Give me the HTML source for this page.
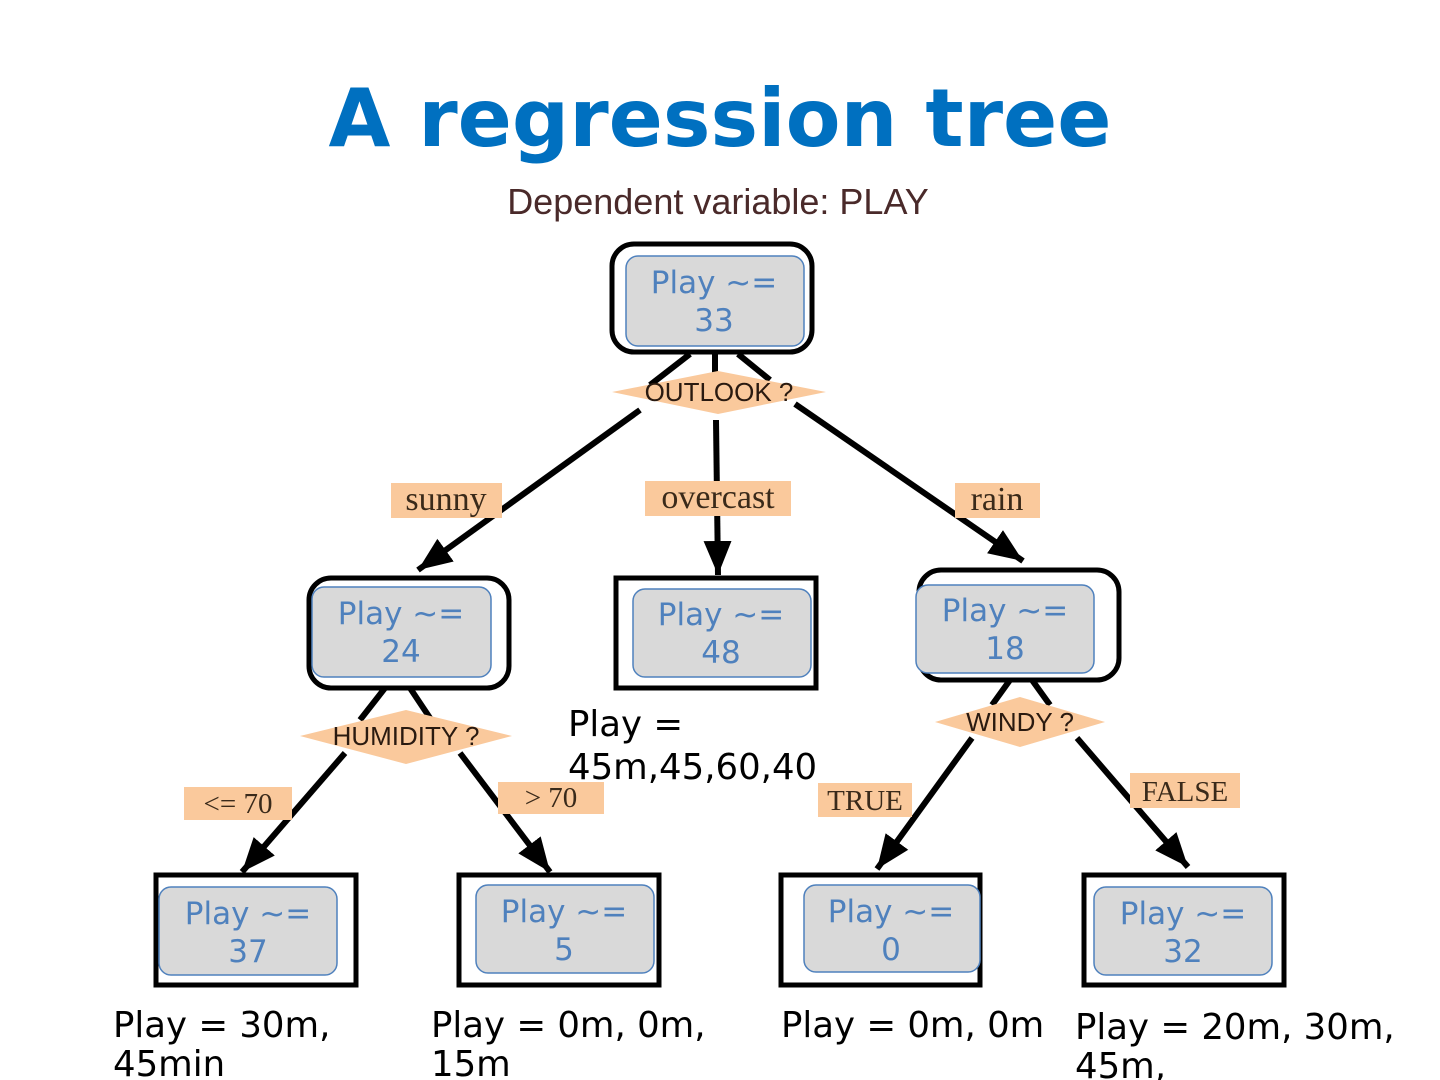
<!DOCTYPE html>
<html><head><meta charset="utf-8"><style>
html,body{margin:0;padding:0;background:#fff;}
svg{display:block;}
.n{font-family:"DejaVu Sans","Liberation Sans",sans-serif;font-size:31px;fill:#4f81bd;text-anchor:middle;}
.lb{font-family:"Liberation Serif",serif;font-size:34px;fill:#3a2a1a;text-anchor:middle;}
.lb2{font-family:"Liberation Serif",serif;font-size:29px;fill:#3a2a1a;text-anchor:middle;}
.dm{font-family:"Liberation Sans",sans-serif;font-size:26px;fill:#2a1a10;text-anchor:middle;}
.bk{font-family:"DejaVu Sans","Liberation Sans",sans-serif;font-size:35.5px;fill:#000;}
</style></head><body>
<svg width="1440" height="1080" viewBox="0 0 1440 1080" xmlns="http://www.w3.org/2000/svg">
<defs>
<marker id="a" markerUnits="userSpaceOnUse" markerWidth="44" markerHeight="44" refX="34" refY="17" orient="auto">
<path d="M0,3 L34,17 L0,31 Z" fill="#000"/>
</marker>
</defs>
<text x="720" y="146" text-anchor="middle" font-family="DejaVu Sans, Liberation Sans, sans-serif" font-weight="bold" font-size="80" fill="#0070c0">A regression tree</text>
<text x="718" y="214" text-anchor="middle" font-family="Liberation Sans, sans-serif" font-size="36" fill="#4a2a2a">Dependent variable: PLAY</text>

<g stroke="#000" stroke-width="6" fill="none">
<line x1="690" y1="354" x2="650" y2="385"/>
<line x1="715" y1="354" x2="715" y2="380"/>
<line x1="738" y1="354" x2="770" y2="380"/>
<line x1="640" y1="410" x2="418" y2="570" marker-end="url(#a)"/>
<line x1="716" y1="420" x2="718" y2="575" marker-end="url(#a)"/>
<line x1="795" y1="404" x2="1023" y2="561" marker-end="url(#a)"/>
<line x1="385" y1="688" x2="360" y2="720"/>
<line x1="410" y1="688" x2="430" y2="718"/>
<line x1="345" y1="753" x2="242" y2="872" marker-end="url(#a)"/>
<line x1="460" y1="753" x2="550" y2="872" marker-end="url(#a)"/>
<line x1="1010" y1="680" x2="992" y2="705"/>
<line x1="1032" y1="680" x2="1050" y2="705"/>
<line x1="972" y1="738" x2="877" y2="869" marker-end="url(#a)"/>
<line x1="1077" y1="738" x2="1188" y2="867" marker-end="url(#a)"/>
</g>

<polygon points="612,392 718,371 826,392 718,414" fill="#fac99c"/>
<text x="719" y="401" class="dm">OUTLOOK ?</text>
<polygon points="300,736 406,710 512,736 406,764" fill="#fac99c"/>
<text x="406" y="745" class="dm">HUMIDITY ?</text>
<polygon points="935,722 1020,697 1105,722 1020,747" fill="#fac99c"/>
<text x="1020" y="731" class="dm">WINDY ?</text>

<g fill="#fac99c">
<rect x="391" y="483" width="111" height="35"/>
<rect x="645" y="481" width="146" height="35"/>
<rect x="955" y="483" width="85" height="35"/>
<rect x="184" y="787" width="108" height="33"/>
<rect x="498" y="782" width="106" height="32"/>
<rect x="818" y="783" width="94" height="34"/>
<rect x="1130" y="773" width="110" height="35"/>
</g>
<text x="446" y="510" class="lb">sunny</text>
<text x="718" y="508" class="lb">overcast</text>
<text x="997" y="510" class="lb">rain</text>
<text x="238" y="813" class="lb2">&lt;= 70</text>
<text x="551" y="807" class="lb2">&gt; 70</text>
<text x="865" y="810" class="lb2">TRUE</text>
<text x="1185" y="801" class="lb2">FALSE</text>

<g stroke="#000" stroke-width="5" fill="#fff">
<rect x="612" y="244" width="200" height="108" rx="22"/>
<rect x="309" y="578" width="200" height="110" rx="22"/>
<rect x="616" y="578" width="200" height="110"/>
<rect x="919" y="570" width="200" height="110" rx="22"/>
<rect x="156" y="875" width="200" height="110"/>
<rect x="459" y="875" width="200" height="110"/>
<rect x="781" y="875" width="199" height="110"/>
<rect x="1084" y="875" width="200" height="110"/>
</g>
<g fill="#d9d9d9" stroke="#4f81bd" stroke-width="1.5">
<rect x="626" y="256" width="178" height="90" rx="12"/>
<rect x="312" y="587" width="179" height="90" rx="12"/>
<rect x="633" y="589" width="178" height="88" rx="12"/>
<rect x="916" y="585" width="178" height="88" rx="12"/>
<rect x="159" y="887" width="178" height="88" rx="12"/>
<rect x="476" y="885" width="178" height="88" rx="12"/>
<rect x="804" y="885" width="176" height="87" rx="12"/>
<rect x="1094" y="887" width="178" height="88" rx="12"/>
</g>
<text class="n" x="714" y="293">Play ~=</text><text class="n" x="714" y="331">33</text>
<text class="n" x="401" y="624">Play ~=</text><text class="n" x="401" y="662">24</text>
<text class="n" x="721" y="625">Play ~=</text><text class="n" x="721" y="663">48</text>
<text class="n" x="1005" y="621">Play ~=</text><text class="n" x="1005" y="659">18</text>
<text class="n" x="248" y="924">Play ~=</text><text class="n" x="248" y="962">37</text>
<text class="n" x="564" y="922">Play ~=</text><text class="n" x="564" y="960">5</text>
<text class="n" x="891" y="922">Play ~=</text><text class="n" x="891" y="960">0</text>
<text class="n" x="1183" y="924">Play ~=</text><text class="n" x="1183" y="962">32</text>

<text class="bk" x="568" y="736">Play =</text>
<text class="bk" x="568" y="779">45m,45,60,40</text>
<text class="bk" x="113" y="1037">Play = 30m,</text>
<text class="bk" x="113" y="1076">45min</text>
<text class="bk" x="431" y="1037">Play = 0m, 0m,</text>
<text class="bk" x="431" y="1076">15m</text>
<text class="bk" x="781" y="1037">Play = 0m, 0m</text>
<text class="bk" x="1075" y="1039">Play = 20m, 30m,</text>
<text class="bk" x="1075" y="1078">45m,</text>
</svg>
</body></html>
